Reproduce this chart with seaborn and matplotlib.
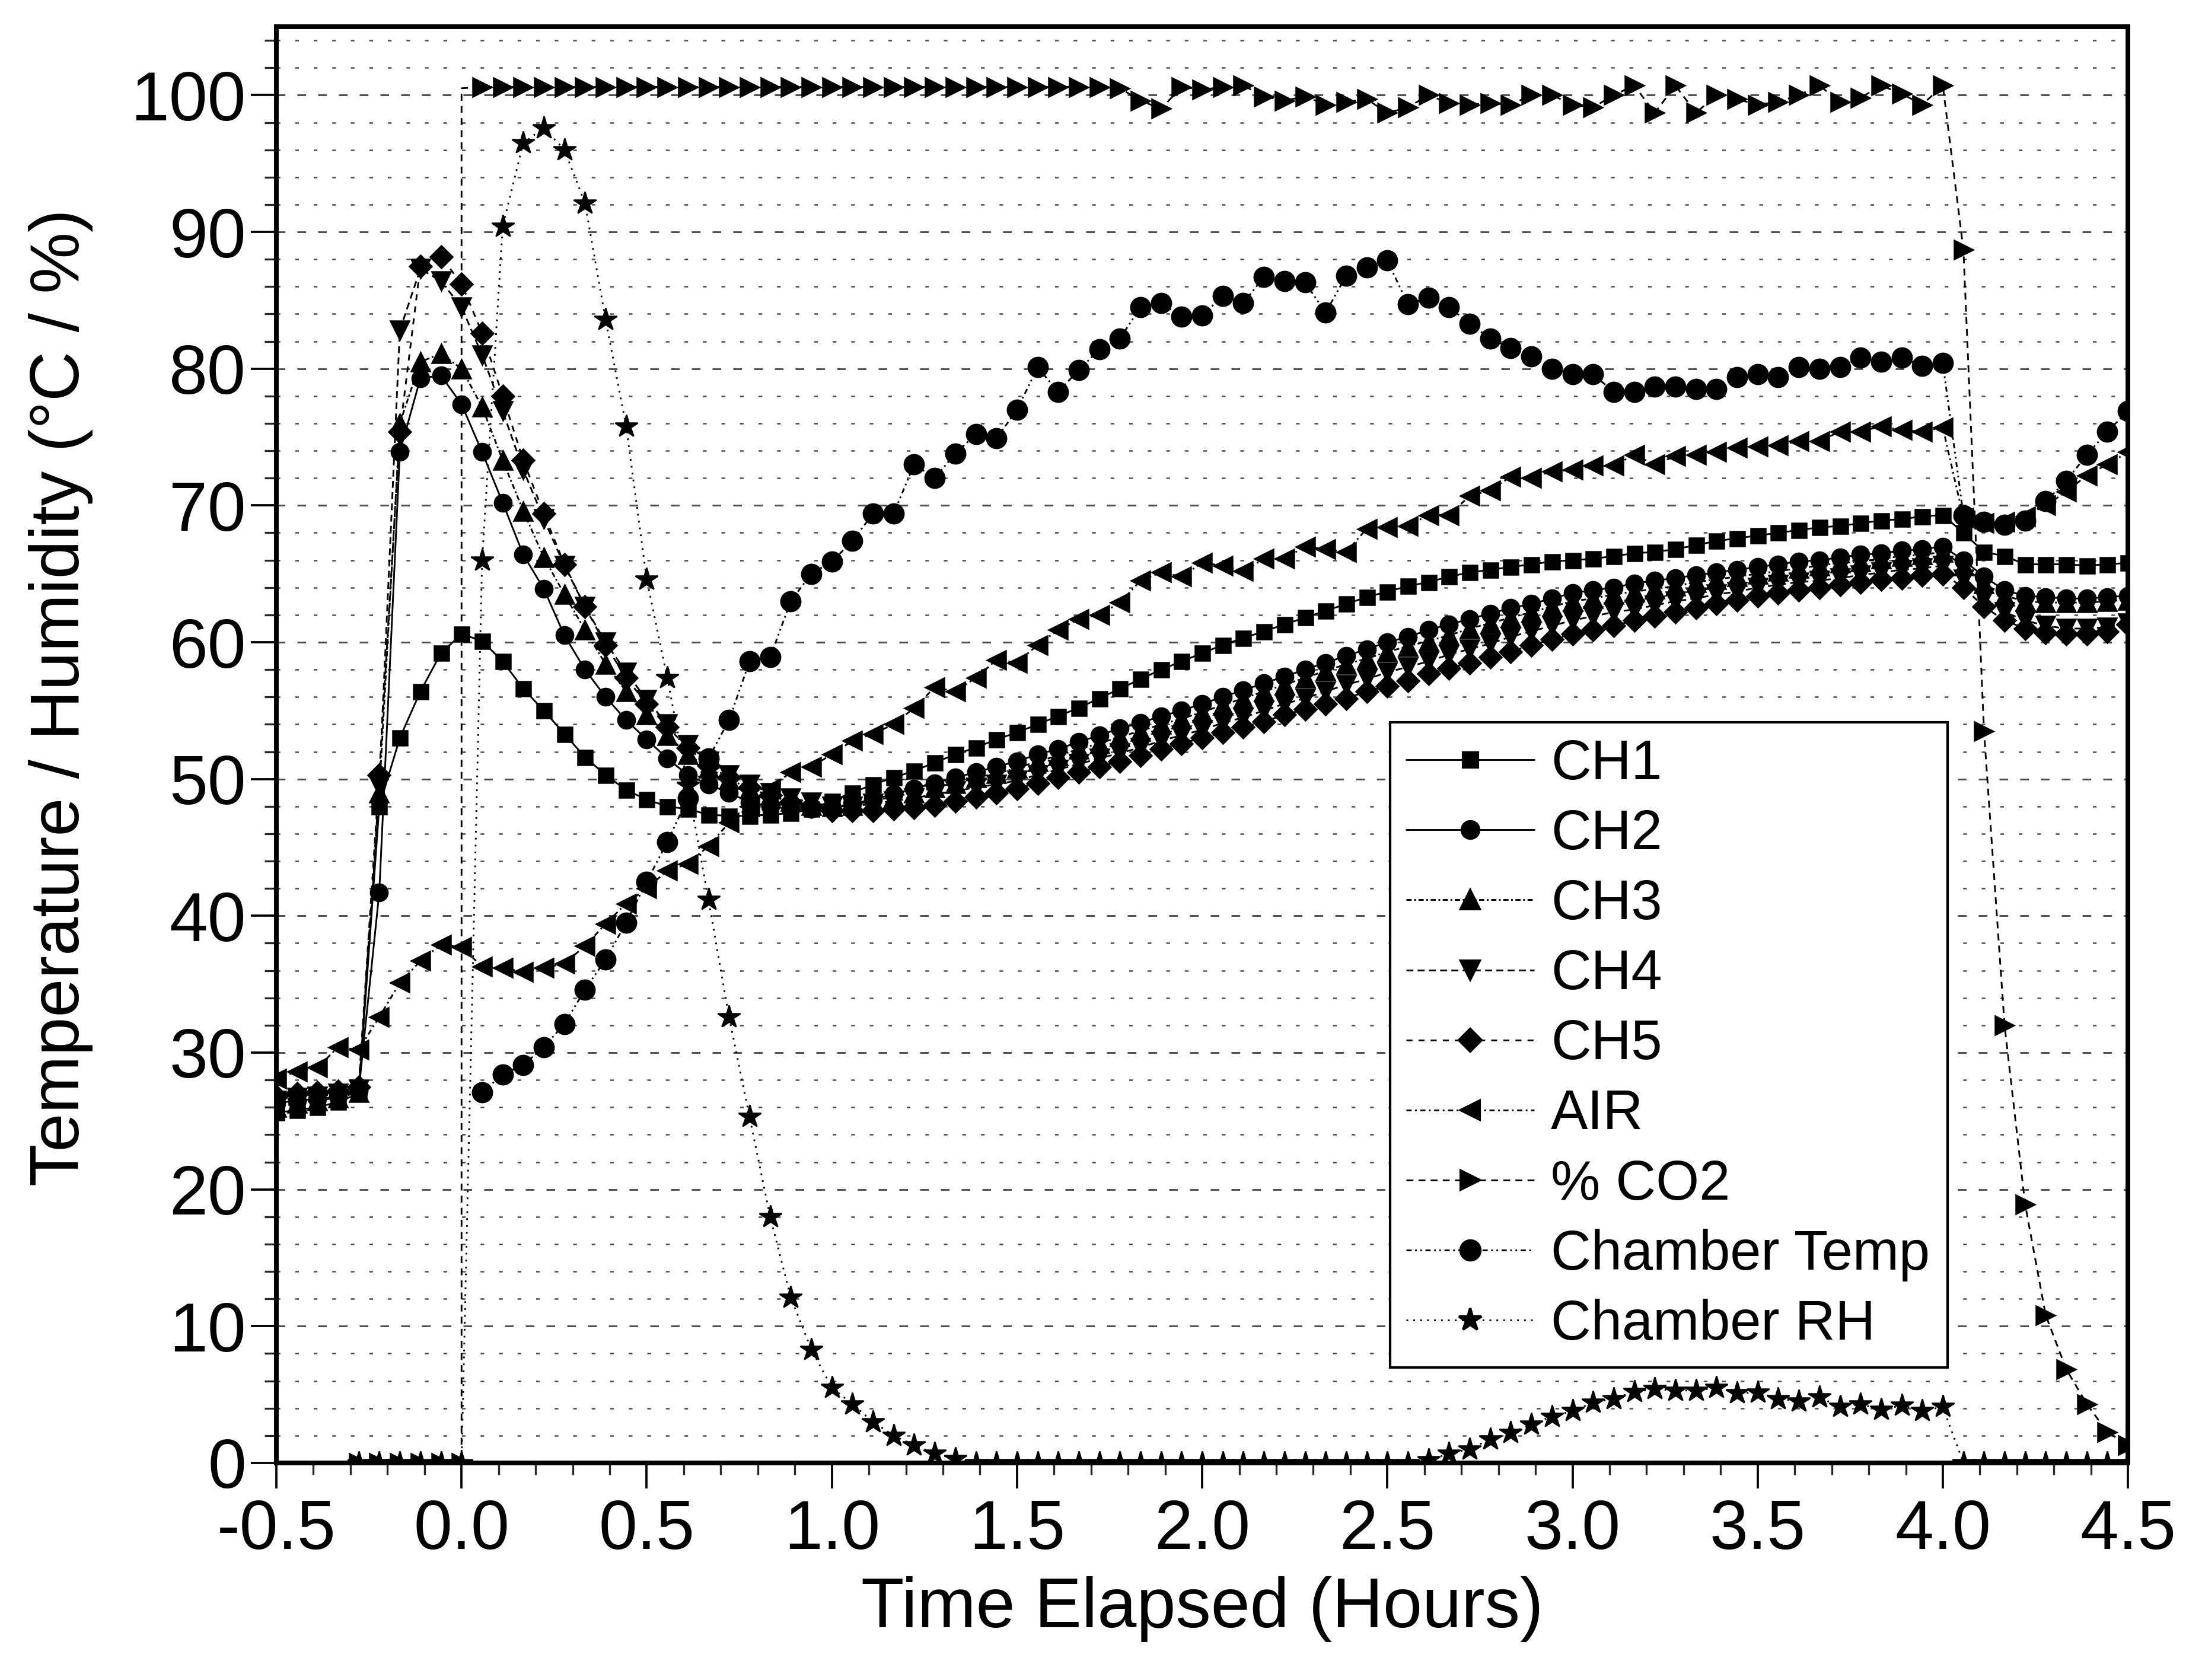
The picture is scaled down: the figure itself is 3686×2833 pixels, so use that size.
import numpy as np
import pandas as pd
import seaborn as sns
import matplotlib
matplotlib.use("Agg")
import matplotlib.pyplot as plt
from matplotlib.lines import Line2D
from matplotlib.ticker import MultipleLocator, FormatStrFormatter

# logger writes one sample every 200 s -> 1/18 h
t_full = np.arange(-9, 82) / 18          # -0.5 .. 4.5 h
t_rh = np.arange(-5, 82) / 18            # RH starts at -0.28 h
t_chamber = np.arange(1, 82) / 18        # chamber temp starts after CO2 on
t_co2 = np.concatenate([np.arange(-5, 1), [0], np.arange(1, 82)]) / 18

ch1 = [25.6, 25.8, 26.0, 26.4, 27.0,
       48.0, 53.0, 56.4, 59.2, 60.6,
       60.1, 58.6, 56.6, 55.0, 53.3, 51.6, 50.3, 49.2, 48.5, 48.0,
       47.8, 47.4, 47.3, 47.3, 47.4, 47.5, 47.8, 48.4, 49.0, 49.6,
       50.1, 50.6, 51.2, 51.8, 52.3, 52.9, 53.4, 54.0, 54.6, 55.2,
       55.9, 56.6, 57.3, 58.0, 58.6, 59.2, 59.8, 60.3, 60.8, 61.3,
       61.8, 62.3, 62.8, 63.3, 63.7, 64.1, 64.4, 64.8, 65.1, 65.3,
       65.5, 65.7, 65.9, 66.0, 66.1, 66.3, 66.5, 66.6, 66.8, 67.1,
       67.4, 67.6, 67.8, 68.0, 68.2, 68.4, 68.5, 68.7, 68.9, 69.0,
       69.2, 69.3, 68.0, 66.6, 66.3, 65.7, 65.7, 65.7, 65.6, 65.7, 65.8]

ch2 = [26.3, 26.5, 26.6, 26.8, 27.2,
       41.7, 73.9, 79.3, 79.5, 77.4,
       73.9, 70.2, 66.4, 63.9, 60.5, 58.0, 56.0, 54.3, 52.9, 51.5,
       50.3, 49.6, 49.0, 48.3, 48.0, 47.8, 47.8, 47.9, 48.2, 48.5,
       48.9, 49.3, 49.7, 50.1, 50.5, 50.9, 51.3, 51.8, 52.2, 52.7,
       53.2, 53.7, 54.1, 54.6, 55.0, 55.5, 56.0, 56.5, 57.0, 57.5,
       58.0, 58.5, 59.0, 59.5, 60.0, 60.4, 60.9, 61.3, 61.7, 62.1,
       62.5, 62.8, 63.2, 63.6, 63.8, 64.0, 64.3, 64.5, 64.7, 64.9,
       65.1, 65.3, 65.5, 65.7, 65.9, 66.0, 66.2, 66.4, 66.5, 66.7,
       66.8, 67.0, 66.0, 64.8, 63.8, 63.4, 63.3, 63.2, 63.2, 63.3, 63.4]

ch3 = [26.0, 26.3, 26.5, 26.7, 27.1,
       49.0, 76.0, 80.5, 81.1, 80.0,
       77.2, 73.3, 69.6, 66.2, 63.5, 60.9, 58.4, 56.4, 54.7, 53.2,
       51.8, 50.8, 50.0, 49.3, 48.8, 48.4, 48.1, 48.0, 48.1, 48.4,
       48.7, 49.0, 49.4, 49.7, 50.1, 50.4, 50.8, 51.3, 51.7, 52.2,
       52.6, 53.1, 53.5, 54.0, 54.4, 54.9, 55.4, 55.9, 56.4, 56.9,
       57.4, 57.9, 58.4, 58.8, 59.3, 59.7, 60.1, 60.5, 61.0, 61.4,
       61.8, 62.2, 62.6, 63.0, 63.2, 63.5, 63.7, 63.9, 64.1, 64.4,
       64.6, 64.8, 65.0, 65.2, 65.4, 65.6, 65.8, 65.9, 66.1, 66.3,
       66.4, 66.6, 65.6, 64.3, 63.4, 63.0, 62.9, 62.9, 62.9, 63.0, 63.1]

ch4 = [26.5, 26.7, 26.8, 27.0, 27.3,
       49.5, 82.8, 87.3, 86.4, 84.5,
       81.0, 76.9, 72.6, 69.0, 65.6, 62.6, 60.0, 57.8, 55.8, 54.0,
       52.5, 51.3, 50.3, 49.6, 49.0, 48.6, 48.3, 48.0, 48.0, 48.2,
       48.4, 48.6, 48.9, 49.1, 49.4, 49.6, 49.9, 50.3, 50.7, 51.1,
       51.5, 51.9, 52.3, 52.8, 53.2, 53.6, 54.1, 54.5, 55.0, 55.5,
       55.9, 56.4, 56.9, 57.3, 57.8, 58.2, 58.6, 59.1, 59.5, 59.9,
       60.4, 60.8, 61.2, 61.6, 61.9, 62.2, 62.4, 62.7, 63.0, 63.2,
       63.5, 63.7, 64.0, 64.2, 64.4, 64.5, 64.7, 64.9, 65.1, 65.3,
       65.4, 65.6, 64.6, 63.2, 62.2, 61.6, 61.2, 61.0, 61.0, 61.1, 61.4]

ch5 = [26.8, 27.0, 27.1, 27.2, 27.5,
       50.3, 75.4, 87.5, 88.2, 86.2,
       82.6, 78.0, 73.3, 69.4, 65.7, 62.6, 59.8, 57.4, 55.5, 53.8,
       52.3, 51.0, 50.1, 49.4, 48.8, 48.3, 48.0, 47.7, 47.7, 47.7,
       47.8, 47.9, 48.1, 48.4, 48.7, 49.0, 49.3, 49.7, 50.1, 50.5,
       50.9, 51.3, 51.7, 52.2, 52.6, 53.0, 53.4, 53.8, 54.2, 54.7,
       55.1, 55.5, 55.9, 56.4, 56.8, 57.2, 57.7, 58.1, 58.5, 58.9,
       59.3, 59.8, 60.2, 60.6, 60.9, 61.2, 61.6, 61.9, 62.2, 62.5,
       62.8, 63.1, 63.4, 63.6, 63.8, 64.0, 64.2, 64.4, 64.6, 64.7,
       64.9, 65.0, 64.0, 62.6, 61.6, 61.0, 60.7, 60.6, 60.6, 60.8, 61.3]

air = [28.1, 28.6, 28.9, 30.4, 30.2,
       32.6, 35.1, 36.7, 37.9, 37.7,
       36.3, 36.2, 35.9, 36.2, 36.5, 37.8, 39.4, 40.9, 42.0, 43.3,
       43.8, 45.1, 46.8, 48.0, 49.3, 50.5, 50.9, 51.8, 52.8, 53.3,
       54.0, 55.2, 56.7, 56.4, 57.4, 58.7, 58.5, 59.8, 60.9, 61.7,
       62.0, 62.9, 64.5, 65.1, 64.8, 65.8, 65.6, 65.2, 66.1, 66.1,
       67.0, 66.8, 66.6, 68.3, 68.4, 68.5, 69.3, 69.3, 70.7, 71.1,
       72.1, 72.0, 72.5, 72.6, 72.9, 72.9, 73.7, 73.0, 73.6, 73.7,
       73.9, 74.2, 74.3, 74.4, 74.7, 74.7, 75.4, 75.4, 75.8, 75.5,
       75.4, 75.7, 69.1, 68.7, 68.8, 69.2, 70.0, 71.0, 72.2, 73.0, 73.9]

co2 = [0, 0, 0, 0, 0, 0, 100.5,
       100.6, 100.6, 100.6, 100.6, 100.6, 100.6, 100.6, 100.6, 100.6, 100.6,
       100.6, 100.6, 100.6, 100.6, 100.6, 100.6, 100.6, 100.6, 100.6, 100.6,
       100.6, 100.6, 100.6, 100.6, 100.6, 100.6, 100.6, 100.6, 100.6, 100.6,
       100.6,
       100.5, 99.6, 99.0, 100.6, 100.4, 100.6, 100.7, 99.9, 99.6, 99.9,
       99.3, 99.5, 99.7, 98.7, 99.1, 100.0, 99.4, 99.3, 99.4, 99.3,
       100.0, 100.0, 99.3, 99.1, 100.0, 100.7, 98.7, 100.7, 98.7, 100.0,
       99.7, 99.3, 99.5, 100.0, 100.7, 99.5, 99.8, 100.7, 100.1, 99.3,
       100.7, 88.7, 53.5, 32.0, 18.9, 10.8, 6.85, 4.3, 2.25, 1.3]

chamber_temp = [27.1, 28.4, 29.1, 30.4, 32.1, 34.6, 36.8, 39.5, 42.5, 45.4,
                48.6, 51.5, 54.3, 58.6, 58.9, 63.0, 65.0, 65.9, 67.4, 69.4,
                69.4, 73.0, 72.0, 73.8, 75.2, 74.9, 77.0, 80.1, 78.3, 79.9,
                81.4, 82.2, 84.5, 84.8, 83.8, 83.9, 85.3, 84.8, 86.7, 86.4,
                86.3, 84.1, 86.8, 87.4, 87.9, 84.7, 85.2, 84.5, 83.3, 82.2,
                81.5, 80.9, 80.0, 79.6, 79.6, 78.3, 78.3, 78.7, 78.7, 78.5,
                78.5, 79.4, 79.6, 79.4, 80.1, 80.0, 80.1, 80.8, 80.5, 80.8,
                80.2, 80.4, 69.3, 68.8, 68.6, 68.9, 70.3, 71.8, 73.7, 75.4, 76.9]

chamber_rh = [0, 0, 0, 0, 0, 0,
              66.0, 90.4, 96.5, 97.6, 96.0, 92.1, 83.6, 75.8, 64.6, 57.4,
              49.5, 41.2, 32.6, 25.3, 18.0, 12.1, 8.3, 5.5, 4.3, 3.0,
              2.0, 1.3, 0.7, 0.3, 0, 0, 0, 0, 0, 0,
              0, 0, 0, 0, 0, 0, 0, 0, 0, 0,
              0, 0, 0, 0, 0, 0, 0.2, 0.7, 1.0, 1.75,
              2.2, 2.8, 3.4, 3.8, 4.4, 4.7, 5.2, 5.4, 5.3, 5.3,
              5.5, 5.1, 5.15, 4.7, 4.5, 4.8, 4.1, 4.3, 3.9, 4.2,
              3.8, 4.1, 0, 0, 0, 0, 0, 0, 0, 0, 0]

# label, x, y, marker, size, linestyle
series = [
    ("CH1", t_full, ch1, "s", 6.0, "-"),
    ("CH2", t_full, ch2, "o", 7.0, "-"),
    ("CH3", t_full, ch3, "^", 7.5, (0, (3, 1.5, 1, 1.5))),
    ("CH4", t_full, ch4, "v", 7.5, (0, (4, 2.5))),
    ("CH5", t_full, ch5, "D", 6.5, (0, (3.5, 3.5))),
    ("AIR", t_full, air, "<", 7.5, (0, (3, 2, 1, 2))),
    ("% CO2", t_co2, co2, ">", 7.5, (0, (4, 3))),
    ("Chamber Temp", t_chamber, chamber_temp, "o", 8.0, (0, (3, 2, 1, 2, 1, 2))),
    ("Chamber RH", t_rh, chamber_rh, "*", 9.5, (0, (1, 3))),
]

sns.set_theme(style="ticks")
plt.rcParams["font.family"] = ["Liberation Sans", "DejaVu Sans"]
plt.rcParams["axes.unicode_minus"] = False
plt.rcParams["text.color"] = "black"
plt.rcParams["axes.labelcolor"] = "black"

fig = plt.figure(figsize=(3687 / 300, 2833 / 300), dpi=300)
ax = fig.add_axes([0.1264, 0.1292, 0.8468, 0.8549])

handles = []
for label, x, y, mk, ms, ls in series:
    markevery = None
    if label == "% CO2":
        # second point at t=0 is the step, no symbol there
        markevery = [i for i in range(len(x)) if i != 6]
    sns.lineplot(x=x, y=y, ax=ax, color="black", marker=mk, markersize=ms,
                 markeredgecolor="black", markerfacecolor="black",
                 markeredgewidth=0.6, linestyle=ls, linewidth=0.7,
                 estimator=None, sort=False, markevery=markevery, legend=False)
    handles.append(Line2D([], [], color="black", marker=mk, markersize=ms,
                          markerfacecolor="black", markeredgecolor="black",
                          linestyle=ls, linewidth=0.7, label=label))

ax.set_xlim(-0.5, 4.5)
ax.set_ylim(0, 105)
ax.xaxis.set_major_locator(MultipleLocator(0.5))
ax.xaxis.set_minor_locator(MultipleLocator(0.1))
ax.xaxis.set_major_formatter(FormatStrFormatter("%.1f"))
ax.yaxis.set_major_locator(MultipleLocator(10))
ax.yaxis.set_minor_locator(MultipleLocator(2))

# sparse dotted horizontal grid, a bit dashier on the 10s
ax.yaxis.grid(True, which="major", color="0.3", linewidth=0.7,
              linestyle=(0, (5, 7)))
ax.yaxis.grid(True, which="minor", color="0.3", linewidth=0.6,
              linestyle=(0, (2.5, 10)))
ax.xaxis.grid(False)

ax.tick_params(which="major", length=10.3, width=0.9, direction="out",
               labelsize=28, colors="black")
ax.tick_params(which="minor", length=4.8, width=0.8, direction="out")
ax.tick_params(axis="y", which="major", pad=2)
ax.tick_params(axis="x", which="major", pad=4)
for side in ["left", "bottom", "top", "right"]:
    ax.spines[side].set_linewidth(1.9)
    ax.spines[side].set_color("black")

ax.set_xlabel("Time Elapsed (Hours)", fontsize=28.5, color="black")
ax.set_ylabel("Temperature / Humidity (°C / %)", fontsize=28, color="black")
ax.xaxis.set_label_coords(0.5, -0.079)
ax.yaxis.set_label_coords(-0.099, 0.533)

leg = ax.legend(handles=handles, loc="upper left",
                bbox_to_anchor=(0.6015, 0.069, 0.301, 0.4467), mode="expand",
                fontsize=22.5, frameon=True, fancybox=False, framealpha=1,
                handlelength=2.3, handletextpad=0.3, labelspacing=0.31,
                borderpad=0.29, borderaxespad=0)
leg.get_frame().set_edgecolor("black")
leg.get_frame().set_linewidth(1.0)
for txt in leg.get_texts():
    txt.set_color("black")

fig.savefig("out.png", dpi=300, facecolor="white")
